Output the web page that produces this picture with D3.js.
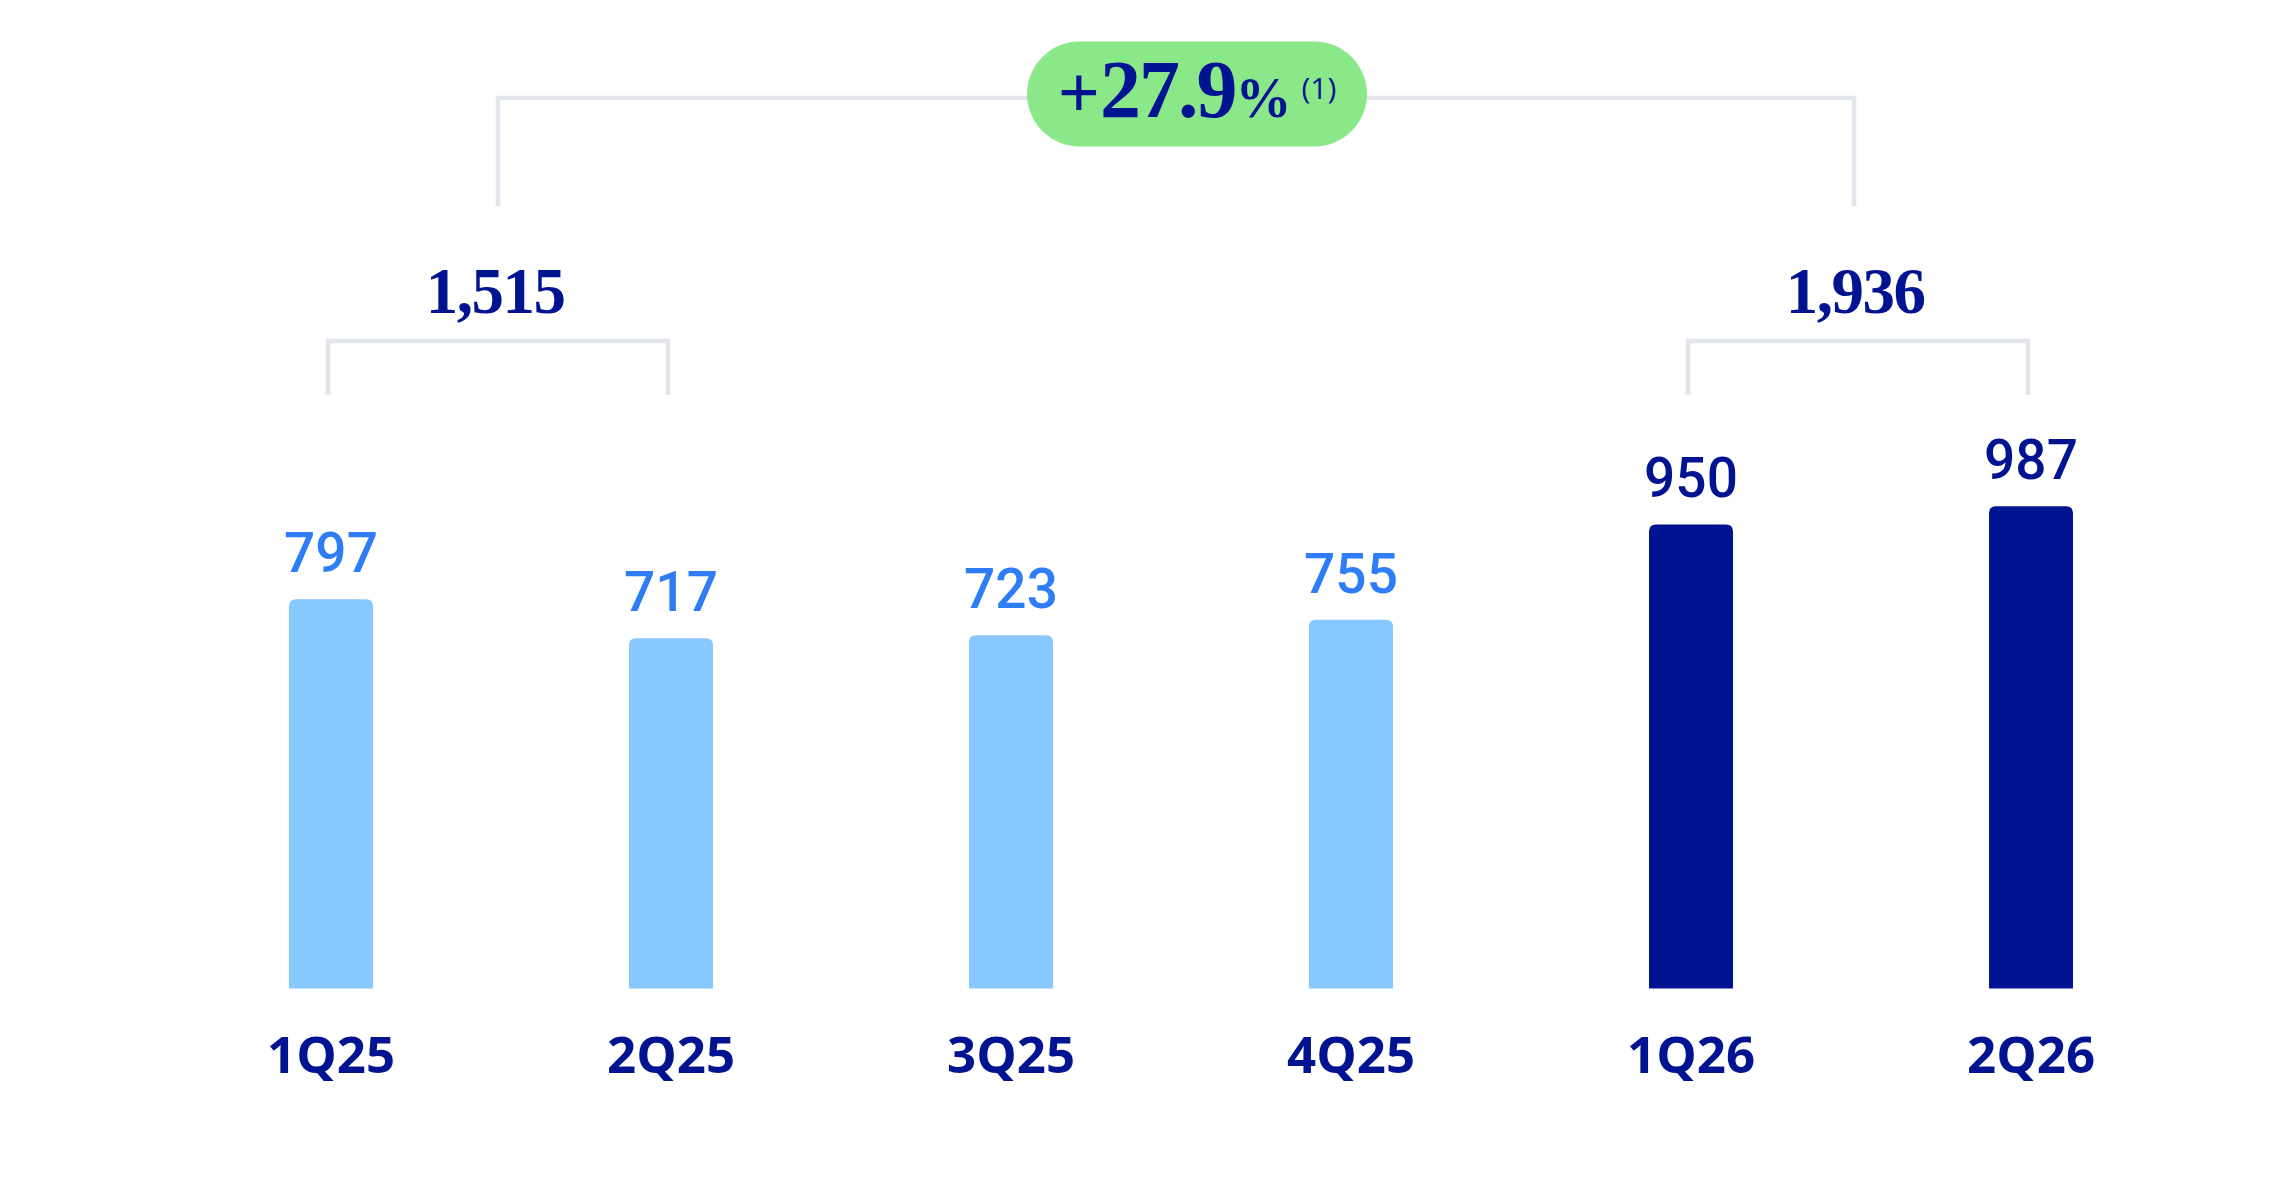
<!DOCTYPE html>
<html>
<head>
<meta charset="utf-8">
<script src="https://cdn.jsdelivr.net/npm/d3@7"></script>
<style>
  html, body { margin: 0; padding: 0; background: #ffffff; }
  svg { display: block; }
</style>
</head>
<body>
<svg id="chart" width="2292" height="1188"></svg>
<script>
// ---- data ----
const categories = ["1Q25", "2Q25", "3Q25", "4Q25", "1Q26", "2Q26"];
const values = [797, 717, 723, 755, 950, 987];
const valueLabels = ["797", "717", "723", "755", "950", "987"];
const highlighted = [false, false, false, false, true, true];
const groupPairs = [["1Q25", "2Q25"], ["1Q26", "2Q26"]];
const groupTotals = ["1,515", "1,936"];
const growthLabel = ["+", "27.9", "%"];
const growthNote = "(1)";

// ---- style ----
const NAVY = "#001391";
const LIGHT_BAR = "#86C8FF";
const LIGHT_LABEL = "#2E7DF6";
const GRID = "#E3E6EC";
const GREEN = "#8AE888";
const SANS = "'Open Sans', 'Noto Sans', sans-serif";
const SANS_MED = "Roboto, 'Noto Sans', sans-serif";
const SERIF = "'Liberation Serif', 'DejaVu Serif', serif";

const svg = d3.select("#chart");
svg.append("rect").attr("width", 2292).attr("height", 1188).attr("fill", "#fff");

const x = d3.scaleBand()
  .domain(categories)
  .range([161, 2201])
  .paddingInner(0.753)
  .paddingOuter(0.3765);

const y = d3.scaleLinear().domain([0, 1000]).range([988.5, 500]);

const bw = x.bandwidth();
const cx = c => x(c) + bw / 2;
const r = 7;

function topRoundedBar(x0, y0, w, h, rad) {
  const rr = Math.min(rad, h);
  return `M${x0},${y0 + h}V${y0 + rr}Q${x0},${y0} ${x0 + rr},${y0}H${x0 + w - rr}Q${x0 + w},${y0} ${x0 + w},${y0 + rr}V${y0 + h}Z`;
}

// bars
svg.append("g").selectAll("path")
  .data(categories)
  .join("path")
  .attr("d", (c, i) => topRoundedBar(x(c), y(values[i]), bw, y(0) - y(values[i]), r))
  .attr("fill", (c, i) => highlighted[i] ? NAVY : LIGHT_BAR);

// value labels
svg.append("g").selectAll("text")
  .data(categories)
  .join("text")
  .attr("x", c => cx(c))
  .attr("y", (c, i) => y(values[i]) - 27)
  .attr("text-anchor", "middle")
  .attr("font-family", SANS_MED)
  .attr("font-size", 55)
  .attr("font-weight", 500)
  .attr("fill", (c, i) => highlighted[i] ? NAVY : LIGHT_LABEL)
  .text((c, i) => valueLabels[i]);

// category axis labels
const xAxis = d3.axisBottom(x).tickSize(0).tickPadding(0);
const axisG = svg.append("g").attr("transform", `translate(0, ${y(0)})`).call(xAxis);
axisG.select(".domain").remove();
axisG.selectAll(".tick text")
  .attr("dy", null)
  .attr("y", 84)
  .attr("font-family", SANS)
  .attr("font-size", 51)
  .attr("font-weight", 700)
  .attr("fill", NAVY);

// group brackets
const smallTop = 341, smallBottom = 395;
const brackets = svg.append("g")
  .attr("fill", "none")
  .attr("stroke", GRID)
  .attr("stroke-width", 4.5)
  .attr("stroke-linejoin", "miter");

const mids = [];
groupPairs.forEach((pair, gi) => {
  const a = cx(pair[0]) - 3, b = cx(pair[1]) - 3;
  brackets.append("path").attr("d", `M${a},${smallBottom}V${smallTop}H${b}V${smallBottom}`);
  mids.push((a + b) / 2);
  svg.append("text")
    .attr("x", (cx(pair[0]) + cx(pair[1])) / 2 - 6)
    .attr("y", 313)
    .attr("text-anchor", "middle")
    .attr("font-family", SERIF)
    .attr("font-weight", 700)
    .attr("font-size", 65)
    .attr("letter-spacing", -1.5)
    .attr("fill", NAVY)
    .text(groupTotals[gi]);
});

// top bracket
const bigTop = 98, bigBottom = 206;
brackets.append("path").attr("d", `M${mids[0]},${bigBottom}V${bigTop}H${mids[1] - 4}V${bigBottom}`);

// growth pill
const pillCx = 1197, pillCy = 94, pillW = 340, pillH = 105;
svg.append("rect")
  .attr("x", pillCx - pillW / 2)
  .attr("y", pillCy - pillH / 2)
  .attr("width", pillW)
  .attr("height", pillH)
  .attr("rx", pillH / 2)
  .attr("fill", GREEN);

const pt = svg.append("text")
  .attr("x", pillCx)
  .attr("y", 117)
  .attr("text-anchor", "middle")
  .attr("fill", NAVY)
  .attr("font-family", SERIF)
  .attr("font-weight", 700);
pt.append("tspan").attr("font-size", 74).text(growthLabel[0]);
pt.append("tspan").attr("font-size", 82).attr("letter-spacing", -2).text(growthLabel[1]);
pt.append("tspan").attr("font-size", 56).text(growthLabel[2]);
pt.append("tspan")
  .attr("dx", 10)
  .attr("dy", -18)
  .attr("font-family", SANS)
  .attr("font-weight", 400)
  .attr("font-size", 30)
  .text(growthNote);
</script>
</body>
</html>
